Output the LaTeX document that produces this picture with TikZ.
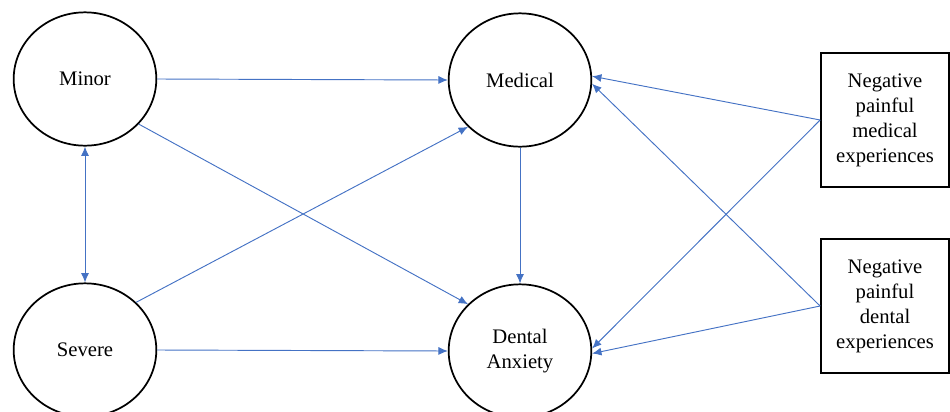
\documentclass[tikz,border=0pt]{standalone}
\usepackage{fontspec}
\setmainfont{Liberation Serif}
\usetikzlibrary{arrows.meta,shapes.geometric}
\definecolor{pathblue}{RGB}{68,114,196}
\tikzset{
  factor/.style={ellipse,draw=black,line width=1.3pt,minimum width=107pt,minimum height=100pt,inner sep=0pt,align=center,font=\fontsize{15.5}{18.8}\selectfont},
  expbox/.style={rectangle,draw=black,line width=1.3pt,minimum width=96pt,minimum height=100pt,inner sep=0pt,align=center,font=\fontsize{15.5}{18.8}\selectfont},
  path/.style={draw=pathblue,line width=0.7pt,-{Latex[length=7pt,width=6pt]}}
}
\begin{document}
\begin{tikzpicture}[x=0.75pt,y=-0.75pt]
\useasboundingbox (0,0) rectangle (950,411);

% Latent factors
      \node[factor] (minor)   at (85,79)   {Minor};
      \node[factor] (medical) at (520,80)  {Medical};
      \node[factor] (severe)  at (85,350)  {Severe};
      \node[factor] (dental)  at (520,351) {Dental\\Anxiety};
% Experiences
      \node[expbox] (medexp)  at (885,120) {Negative\\painful\\medical\\experiences};
      \node[expbox] (denexp)  at (885,306) {Negative\\painful\\dental\\experiences};

% Paths
      \begin{scope}
        \draw[path] (minor.east) -- (medical.west);
        \draw[path] (minor.-40) -- (dental.138);
        \draw[path,{Latex[length=7pt,width=6pt]}-{Latex[length=7pt,width=6pt]}] (minor.south) -- (severe.north);
        \draw[path] (severe.43) -- (medical.-138);
        \draw[path] (severe.east) -- (dental.west);
        \draw[path] (medical.south) -- (dental.north);
%experiences
        \draw[path] (medexp.west) -- (medical.3);
        \draw[path] (medexp.west) -- (dental.2);
        \draw[path] (denexp.west) -- (medical.-3);
        \draw[path] (denexp.west) -- (dental.-2);
      \end{scope}

\end{tikzpicture}
\end{document}
